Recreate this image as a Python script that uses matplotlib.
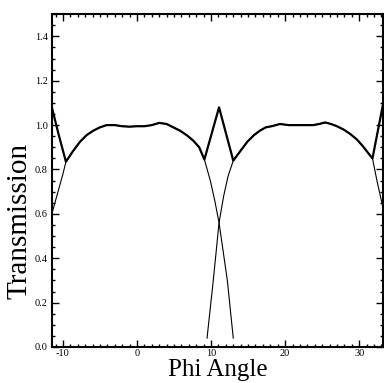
import matplotlib
matplotlib.use("Agg")
from matplotlib import pyplot as plt
from matplotlib.ticker import MultipleLocator

# thin curve centred at 0
a_x = [-11.5, -11.0, -10.5, -10.0, -9.6, -8.7, -7.7, -6.8, -5.9, -5.0, -4.1, -3.0,
       -2.0, -1.0, 0.0, 1.0, 2.0, 3.0, 4.0, 4.9, 5.8, 6.7, 7.6, 8.4, 9.1, 9.9,
       10.5, 11.08, 12.2, 13.0]
a_y = [0.60, 0.66, 0.72, 0.78, 0.835, 0.88, 0.925, 0.955, 0.975, 0.99, 1.0, 1.0,
       0.995, 0.993, 0.995, 0.995, 1.0, 1.01, 1.005, 0.99, 0.975, 0.955, 0.93, 0.90,
       0.845, 0.75, 0.66, 0.56, 0.30, 0.04]

# thin curve centred at 22
b_x = [9.46, 10.3, 11.08, 11.7, 12.3, 13.0, 14.0, 14.9, 15.8, 16.6, 17.4, 18.2,
       19.3, 20.5, 21.6, 22.7, 23.8, 24.6, 25.4, 26.2, 27.0, 27.9, 28.8, 29.7,
       30.5, 31.2, 31.8, 32.4, 33.2]
b_y = [0.04, 0.30, 0.56, 0.68, 0.77, 0.84, 0.885, 0.925, 0.955, 0.975, 0.99, 0.995,
       1.005, 1.0, 1.0, 1.0, 1.0, 1.005, 1.012, 1.005, 0.995, 0.98, 0.96, 0.935,
       0.905, 0.875, 0.85, 0.75, 0.63]

# thick total line
t_x = [-11.5, -10.6, -9.6, -8.7, -7.7, -6.8, -5.9, -5.0, -4.1, -3.0, -2.0, -1.0,
       0.0, 1.0, 2.0, 3.0, 4.0, 4.9, 5.8, 6.7, 7.6, 8.4, 9.1, 11.08, 13.0, 14.0,
       14.9, 15.8, 16.6, 17.4, 18.2, 19.3, 20.5, 21.6, 22.7, 23.8, 24.6, 25.4,
       26.2, 27.0, 27.9, 28.8, 29.7, 30.5, 31.2, 31.8, 33.2]
t_y = [1.08, 0.96, 0.835, 0.88, 0.925, 0.955, 0.975, 0.99, 1.0, 1.0, 0.995, 0.993,
       0.995, 0.995, 1.0, 1.01, 1.005, 0.99, 0.975, 0.955, 0.93, 0.90, 0.845, 1.08,
       0.84, 0.885, 0.925, 0.955, 0.975, 0.99, 0.995, 1.005, 1.0, 1.0, 1.0, 1.0,
       1.005, 1.012, 1.005, 0.995, 0.98, 0.96, 0.935, 0.905, 0.875, 0.85, 1.09]

x_ticks = [-10, 0, 10, 20, 30]
y_ticks = [0.0, 0.2, 0.4, 0.6, 0.8, 1.0, 1.2, 1.4]

serif = "Liberation Serif"

fig = plt.figure(figsize=(3.84, 3.83), dpi=100)
ax = fig.add_axes([0.135, 0.094, 0.862, 0.869])

ax.plot(a_x, a_y, color="black", lw=0.8)
ax.plot(b_x, b_y, color="black", lw=0.8)
ax.plot(t_x, t_y, color="black", lw=1.6)

ax.set_xlim(-11.5, 33.2)
ax.set_ylim(0, 1.5)
ax.set_xticks(x_ticks)
ax.set_yticks(y_ticks)
ax.set_xticklabels([str(v) for v in x_ticks], fontfamily=serif, fontsize=7.5)
ax.set_yticklabels(["%.1f" % v for v in y_ticks], fontfamily=serif, fontsize=7.5)
ax.xaxis.set_minor_locator(MultipleLocator(1))
ax.yaxis.set_minor_locator(MultipleLocator(0.05))
ax.tick_params(which="both", direction="in", top=True, right=True, width=1.0)
ax.tick_params(which="major", length=5)
ax.tick_params(which="minor", length=2.5)
ax.tick_params(axis="x", which="major", pad=1.5)
ax.tick_params(axis="y", which="major", pad=3)
for s in ax.spines.values():
    s.set_linewidth(1.5)

ax.set_xlabel("Phi Angle", fontfamily=serif, fontsize=18)
ax.set_ylabel("Transmission", fontfamily=serif, fontsize=21)
ax.xaxis.set_label_coords(0.5, -0.036)
ax.yaxis.set_label_coords(-0.058, 0.38)

fig.savefig("out.png", dpi=100)
